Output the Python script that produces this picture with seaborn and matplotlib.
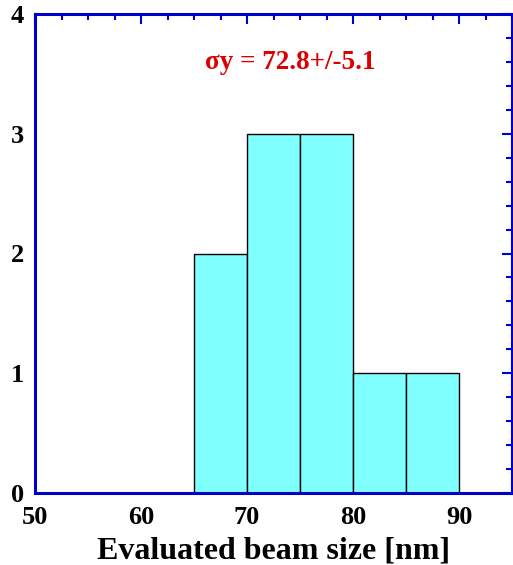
import matplotlib
matplotlib.use("Agg")
import matplotlib.pyplot as plt
import seaborn as sns
import numpy as np
from matplotlib.ticker import MultipleLocator

# Data
bin_edges = [65, 70, 75, 80, 85, 90]
bin_centers = [67.5, 72.5, 77.5, 82.5, 87.5]
counts = [2, 3, 3, 1, 1]
x_ticks = [50, 60, 70, 80, 90]
y_ticks = [0, 1, 2, 3, 4]
annotation = "σy = 72.8+/-5.1"
xlabel = "Evaluated beam size [nm]"

sns.set_style("white")
plt.rcParams['font.family'] = ['Liberation Serif', 'DejaVu Serif']
plt.rcParams['font.weight'] = 'bold'
plt.rcParams['text.color'] = 'black'
plt.rcParams['axes.labelcolor'] = 'black'

blue = '#0000CC'
fig = plt.figure(figsize=(5.13, 5.65), dpi=100)
ax = fig.add_axes([35/513, 72/565, 477/513, 479/565])

sns.histplot(x=bin_centers, weights=counts, bins=bin_edges, ax=ax,
             color='#80FFFF', edgecolor='black', linewidth=1.0, alpha=1.0)

ax.set_xlim(50, 95)
ax.set_ylim(0, 4)
ax.set_xticks(x_ticks)
ax.set_yticks(y_ticks)
ax.xaxis.set_minor_locator(MultipleLocator(2.5))
ax.yaxis.set_minor_locator(MultipleLocator(0.2))
for s in ax.spines.values():
    s.set_color(blue)
    s.set_linewidth(2.2)
    s.set_visible(True)
ax.tick_params(which='both', direction='in', top=True, right=True, color=blue,
               width=1.5, labelsize=19, labelcolor='black')
ax.tick_params(which='major', length=7)
ax.tick_params(which='minor', length=4.3)
ax.tick_params(axis='x', which='major', pad=9)
ax.tick_params(axis='y', which='major', pad=8)
for lab in ax.get_xticklabels() + ax.get_yticklabels():
    lab.set_fontweight('bold')
ax.set_xlabel(xlabel, fontsize=23, fontweight='bold', labelpad=6, color='black')
ax.set_ylabel('')
ax.text(0.535, 0.898, annotation, transform=ax.transAxes, ha='center', va='center',
        color='#DD0000', fontsize=19.5, fontweight='bold')

fig.savefig('out.png', dpi=100)
